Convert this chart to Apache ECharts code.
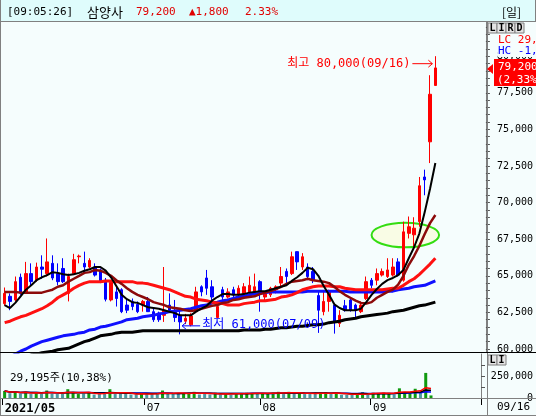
<!DOCTYPE html>
<html><head><meta charset="utf-8">
<script src="https://cdn.jsdelivr.net/npm/echarts@6/dist/echarts.min.js"></script>
<style>html,body{margin:0;padding:0;background:#f5fdfd}#c{width:536px;height:416px}</style>
</head><body><div id="c"></div>
<script>
// ---------- DATA ----------
const dates = [
 '2021/05/25','2021/05/26','2021/05/27','2021/05/28','2021/05/31',
 '2021/06/01','2021/06/02','2021/06/03','2021/06/04','2021/06/07','2021/06/08','2021/06/09','2021/06/10','2021/06/11',
 '2021/06/14','2021/06/15','2021/06/16','2021/06/17','2021/06/18','2021/06/21','2021/06/22','2021/06/23','2021/06/24','2021/06/25',
 '2021/06/28','2021/06/29','2021/06/30',
 '2021/07/01','2021/07/02','2021/07/05','2021/07/06','2021/07/07','2021/07/08','2021/07/09','2021/07/12','2021/07/13','2021/07/14',
 '2021/07/15','2021/07/16','2021/07/19','2021/07/20','2021/07/21','2021/07/22','2021/07/23','2021/07/26','2021/07/27','2021/07/28',
 '2021/07/29','2021/07/30',
 '2021/08/02','2021/08/03','2021/08/04','2021/08/05','2021/08/06','2021/08/09','2021/08/10','2021/08/11','2021/08/12','2021/08/13',
 '2021/08/17','2021/08/18','2021/08/19','2021/08/20','2021/08/23','2021/08/24','2021/08/25','2021/08/26','2021/08/27','2021/08/30','2021/08/31',
 '2021/09/01','2021/09/02','2021/09/03','2021/09/06','2021/09/07','2021/09/08','2021/09/09','2021/09/10','2021/09/13','2021/09/14','2021/09/15','2021/09/16'
];
const emptySlots = 9;
// [open, close, low, high]
const candles = [
 [63100,63800,62950,64200],[63600,63250,62650,63800],[63350,64600,63250,64950],[64900,63800,63700,65150],[63900,65150,63800,65950],
 [65150,64600,64350,65850],[64700,65600,64600,65900],[65600,65450,64800,66400],[65150,65950,64950,67550],[65850,64850,64700,66400],
 [65150,64600,64350,65850],[65500,64600,64500,66200],[63800,64950,63250,65150],[65150,66100,65050,66500],[66300,66350,65850,66450],
 [65850,65600,65150,66650],[65600,66050,65500,66200],[65600,65050,64950,65850],[65400,64600,64500,65500],[64700,63400,63250,64850],
 [63350,64550,63250,64700],[63900,63450,62900,64250],[64050,62550,62450,64150],[63000,62650,62450,63450],[63250,62900,62650,63450],
 [63050,62550,62450,63250],[63000,63250,62550,63350],[63250,62550,62550,63550],[62550,62000,61850,62800],[62450,62000,61850,62550],
 [62300,62650,61850,65600],[63000,62650,62550,63800],[62550,62150,61850,63350],[62300,61850,61000,62650],[61900,62100,61700,62400],
 [61650,62250,61550,62450],[62550,63900,62450,64250],[64250,63900,63600,64350],[64850,64150,63700,65400],[64250,63550,63350,64700],
 [62150,62900,62100,63000],[64050,63550,63350,64250],[63550,63900,63450,64150],[64050,63700,63450,64250],[63700,64150,63550,64350],
 [63800,64250,63700,64500],[63900,64350,63550,64950],[63900,64250,63800,65150],[64600,63900,62550,64700],[63550,63800,63250,63900],
 [63700,64150,63550,64250],[64050,64250,63800,64350],[64500,64950,64250,65600],[65300,64950,64500,65500],[65150,66300,65050,66650],
 [66650,65950,65400,66650],[65600,66300,65400,66550],[65600,64950,64700,65850],[65300,64700,64500,65600],[63650,62650,61100,63950],
 [62550,63250,62300,63900],[63250,63900,62550,64050],[63000,61850,61050,63100],[61750,62300,61500,62650],[62950,62650,62550,63350],
 [63350,62650,62550,63450],[63000,62650,62100,63100],[62550,63000,62450,63250],[63450,64600,63350,64950],[64700,64350,64150,64850],
 [64700,65150,64350,65500],[65050,65300,64950,65500],[64950,65400,64850,66200],[65050,65600,64950,66200],[65950,65050,64950,66200],
 [64700,68000,64600,68700],[67900,68350,67550,69050],[67800,68250,67000,69000],[68700,71150,68350,71750],[71750,71550,70500,72250],
 [74150,77400,72700,78700],[78000,79200,78000,80000]
];
// moving averages
const maBlack = [
 63000,62800,63150,63600,64050,64350,64700,64900,65050,65250,
 65200,65100,65050,65100,65200,65350,65450,65600,65600,65350,
 64900,64300,63700,63400,63200,63150,63000,62850,62800,62750,
 62650,62550,62450,62300,62300,62300,62550,62750,62950,63300,
 63550,63750,63750,63700,63700,63750,63850,63900,63950,63950,
 64050,64150,64250,64350,64650,64900,65200,65550,65450,65000,
 64300,63700,63050,62800,62650,62650,62650,62750,63200,63700,
 64100,64450,64700,64850,65050,65400,66200,66950,67900,69350,
 70950,72700];
const maMaroon = [
 63900,63900,63900,63850,63850,63850,63850,63850,63950,64050,
 64250,64350,64600,64800,65000,65200,65250,65400,65350,65200,
 65000,64700,64450,64150,63900,63700,63550,63400,63200,63100,
 63000,62850,62800,62750,62650,62600,62650,62750,62850,62950,
 63000,63150,63200,63350,63400,63500,63550,63600,63750,63850,
 63950,64100,64250,64450,64600,64650,64700,64800,64700,64650,
 64600,64500,64250,63950,63700,63500,63300,63150,63100,63200,
 63500,63700,63900,64050,64400,65000,65750,66350,67050,67850,
 68600,69150];
const maRed = [
 61800,61900,62050,62200,62300,62450,62600,62750,62950,63200,
 63500,63700,63900,64150,64350,64500,64600,64600,64600,64650,
 64650,64600,64600,64600,64600,64500,64500,64450,64350,64250,
 64150,64050,63900,63750,63600,63550,63400,63350,63300,63200,
 63150,63100,63000,63000,63000,63100,63150,63200,63300,63300,
 63350,63400,63550,63600,63700,63850,64050,64150,64250,64300,
 64300,64300,64250,64250,64150,64100,64050,64050,64050,64050,
 64050,64050,64100,64150,64150,64350,64600,64800,65100,65450,
 65800,66200];
const maBlue = [
 59250,59450,59650,59850,60000,60200,60350,60500,60600,60700,
 60800,60900,60950,61000,61100,61150,61300,61350,61500,61550,
 61650,61750,61850,62000,62050,62100,62200,62250,62300,62400,
 62450,62550,62600,62650,62700,62750,62850,62950,63000,63150,
 63200,63300,63350,63450,63550,63600,63700,63750,63800,63850,
 63900,63900,63900,63900,63900,63900,63900,63950,63950,63950,
 63950,63950,63950,63950,63950,63900,63900,63900,63900,63900,
 63900,63900,63950,63950,64050,64100,64150,64250,64300,64350,
 64500,64650];
const maThick = [
 59100,59250,59300,59400,59450,59600,59650,59750,59800,59850,
 59950,60000,60050,60200,60350,60500,60600,60750,60900,60950,
 61000,61100,61150,61150,61150,61200,61250,61250,61250,61250,
 61250,61250,61250,61250,61250,61250,61250,61250,61250,61250,
 61250,61250,61250,61250,61250,61300,61300,61300,61300,61350,
 61350,61400,61450,61450,61500,61550,61550,61600,61650,61650,
 61700,61800,61850,61900,62000,62050,62100,62200,62250,62300,
 62350,62400,62450,62550,62600,62650,62750,62850,62950,63000,
 63100,63200];
const volumes = [
 80000,55000,70000,50000,70000,45000,65000,50000,85000,50000,
 45000,50000,100000,70000,45000,50000,65000,40000,45000,50000,
 100000,45000,55000,45000,40000,40000,55000,45000,50000,45000,
 85000,50000,45000,55000,50000,60000,70000,40000,50000,40000,
 60000,40000,55000,35000,55000,55000,60000,55000,50000,50000,
 55000,60000,70000,45000,70000,50000,60000,45000,45000,55000,
 60000,65000,50000,55000,35000,35000,35000,50000,65000,40000,
 60000,55000,60000,60000,40000,110000,70000,65000,105000,60000,
 285000,29195];
const priceLabels = [60000,62500,65000,67500,70000,72500,75000,77500,80000];
const volLabels = [0,250000];
const headerTexts = {time:'[09:05:26]', name:'삼양사', price:'79,200', change:'▲1,800', rate:'2.33%', period:'[일]'};
const lastPriceText = ['79,200','(2,33%)'];
const lcText = 'LC 29,8', hcText = 'HC -1,0';
const highNote = '최고 80,000(09/16)', lowNote = '최저 61,000(07/09)';
const volNote = '29,195주(10,38%)';
const lastDateText = '09/16';

// ---------- BUILD ----------
const fmt = n => String(n).replace(/\B(?=(\d{3})+(?!\d))/g, ',');
const cats = dates.concat(Array.from({length: emptySlots}, (_, i) => 'pad' + i));
const monthStarts = [0];
for (let i = 1; i < dates.length; i++) {
  if (dates[i].slice(5,7) !== dates[i-1].slice(5,7) && i - monthStarts[monthStarts.length - 1] > 10) monthStarts.push(i);
}
const priceTickVals = []; for (let v = 60000; v <= 82000; v += 500) priceTickVals.push(v);
const volBars = volumes.map((v, i) => ({value: v, itemStyle: {color: candles[i][1] >= candles[i][0] ? '#109a10' : '#4d9aa0'}}));
function sma(arr, n) { return arr.map((_, i) => { const s = arr.slice(Math.max(0, i-n+1), i+1); return Math.round(s.reduce((a,b)=>a+b,0)/s.length); }); }
const mono = "'DejaVu Sans Mono','Noto Sans CJK KR',monospace";

const chart = echarts.init(document.getElementById('c'), null, {renderer: 'canvas'});
const lineS = (data, color, w, z) => ({type: 'line', data, xAxisIndex: 0, yAxisIndex: 0, symbol: 'none', silent: true,
  lineStyle: {color, width: w}, z, animation: false});
chart.setOption({
  animation: false,
  backgroundColor: '#f5fdfd',
  grid: [
    {left: 2, right: 49, top: 22, bottom: 64},
    {left: 2, right: 49, top: 354, bottom: 18}
  ],
  xAxis: [
    {type: 'category', gridIndex: 0, data: cats, boundaryGap: true, axisLine: {show: false}, axisTick: {show: false}, axisLabel: {show: false}, splitLine: {show: false}},
    {type: 'category', gridIndex: 1, data: cats, boundaryGap: true, axisLine: {show: false},
     axisTick: {show: true, interval: i => monthStarts.includes(i), length: 7, lineStyle: {color: '#000'}},
     axisLabel: {show: true, interval: i => monthStarts.includes(i), align: 'left', margin: 5, color: '#000', fontFamily: mono, fontSize: 11, hideOverlap: false,
       formatter: (v, i) => i === 0 ? '{b|' + v.slice(0,7) + '}' : v.slice(5,7),
       rich: {b: {fontWeight: 'bold', fontSize: 12, fontFamily: mono, color: '#000'}}},
     splitLine: {show: false}}
  ],
  yAxis: [
    {type: 'value', gridIndex: 0, position: 'right', min: 59795, max: 82335, splitLine: {show: false},
     axisLine: {show: true, lineStyle: {color: '#808080'}},
     axisTick: {show: true, customValues: priceTickVals, length: 4, lineStyle: {color: '#555'}},
     axisLabel: {show: true, customValues: priceLabels, formatter: v => fmt(v), margin: 11, color: '#000', fontFamily: mono, fontSize: 10}},
    {type: 'value', gridIndex: 1, position: 'right', min: 0, max: 500000, splitLine: {show: false},
     axisLine: {show: true, lineStyle: {color: '#808080'}},
     axisTick: {show: true, customValues: [0,125000,250000,375000], length: 4, lineStyle: {color: '#555'}},
     axisLabel: {show: true, customValues: volLabels, formatter: v => fmt(v), margin: 52, align: 'right', color: '#000', fontFamily: mono, fontSize: 10}}
  ],
  series: [
    {type: 'candlestick', data: candles, xAxisIndex: 0, yAxisIndex: 0, barWidth: 3, z: 2,
     itemStyle: {color: '#ff0000', color0: '#0000ff', borderColor: '#ff0000', borderColor0: '#0000ff', borderWidth: 1}},
    lineS(maThick, '#000000', 3, 3),
    lineS(maBlue, '#1010ff', 3, 3),
    lineS(maRed, '#ff1010', 3, 3),
    lineS(maMaroon, '#8c0a0a', 2.5, 4),
    lineS(maBlack, '#000000', 2, 5),
    {type: 'bar', data: volBars, xAxisIndex: 1, yAxisIndex: 1, barWidth: 3},
    {type: 'line', data: sma(volumes, 20), xAxisIndex: 1, yAxisIndex: 1, symbol: 'none', lineStyle: {color: '#0000ff', width: 1.5}, z: 3},
    {type: 'line', data: sma(volumes, 10), xAxisIndex: 1, yAxisIndex: 1, symbol: 'none', lineStyle: {color: '#000', width: 1.5}, z: 3},
    {type: 'line', data: sma(volumes, 5), xAxisIndex: 1, yAxisIndex: 1, symbol: 'none', lineStyle: {color: '#ff0000', width: 1.5}, z: 3}
  ]
});

// ---------- FRAME & ANNOTATIONS ----------
const px = (i, v) => chart.convertToPixel({gridIndex: 0}, [i, v]);
const last = candles.length - 1;
const pClose = px(last, candles[last][1]);
let hiIdx = 0, loIdx = 0;
candles.forEach((c, i) => { if (c[3] > candles[hiIdx][3]) hiIdx = i; if (c[2] < candles[loIdx][2]) loIdx = i; });
const pHi = px(hiIdx, candles[hiIdx][3]);
const pLo = px(loIdx, candles[loIdx][2]);
const eL = px(69, 68625), eR = px(81, 66945);
const band = (px(1, 60000)[0] - px(0, 60000)[0]);
const eRight = eR[0] + band * 0.7;
const t = (x, y, text, fill, size, extra) => Object.assign({type: 'text', x, y, silent: true, z: 20,
  style: Object.assign({text, fill, font: (size || 11) + 'px ' + mono, textVerticalAlign: 'middle'}, extra || {})});
const ln = (x1, y1, x2, y2, stroke, w) => ({type: 'line', silent: true, z: 19, shape: {x1, y1, x2, y2}, style: {stroke, lineWidth: w || 1}});
const box = (x, y, letter) => ([
  {type: 'rect', silent: true, z: 20, shape: {x, y, width: 9, height: 10}, style: {fill: '#e4e4e4', stroke: '#808080', lineWidth: 1}},
  t(x + 4.5, y + 5.5, letter, '#000', 10, {font: 'bold 10px ' + mono, textAlign: 'center'})
]);
const g = [
  {type: 'rect', silent: true, z: 10, shape: {x: 0, y: 0, width: 536, height: 21}, style: {fill: '#dffcfc'}},
  ln(0, 21.5, 536, 21.5, '#808080'),
  ln(0.5, 0, 0.5, 416, '#808080'),
  ln(535.5, 0, 535.5, 21, '#808080'),
  ln(487.5, 21, 487.5, 416, '#808080'),
  ln(0, 352.5, 536, 352.5, '#000000'),
  ln(0, 398.5, 536, 398.5, '#808080'),
  ln(0, 415.5, 536, 415.5, '#808080'),
  t(7, 12, headerTexts.time, '#000', 11),
  t(87, 12, headerTexts.name, '#000', 13, {font: "13px 'Noto Sans CJK KR'"}),
  t(136, 12, headerTexts.price, '#e00000', 11),
  t(189, 12, headerTexts.change, '#e00000', 11),
  t(245, 12, headerTexts.rate, '#e00000', 11),
  t(502, 12, headerTexts.period, '#000', 12, {font: "12px 'Noto Sans CJK KR'"}),
  ...box(488, 23, 'L'), ...box(497, 23, 'I'), ...box(506, 23, 'R'), ...box(515, 23, 'D'),
  ...box(488, 355, 'L'), ...box(497, 355, 'I'),
  t(498, 40, lcText, '#ff0000', 11, {backgroundColor: '#f5fdfd'}),
  t(498, 51.5, hcText, '#0000ff', 11, {backgroundColor: '#f5fdfd'}),
  {type: 'rect', silent: true, z: 20, shape: {x: 494, y: pClose[1] - 9, width: 42, height: 27}, style: {fill: '#ff0000'}},
  {type: 'polygon', silent: true, z: 20, shape: {points: [[487, pClose[1] + 1], [493, pClose[1] - 4], [493, pClose[1] + 6]]}, style: {fill: '#ff0000'}},
  t(498, pClose[1] - 1, lastPriceText[0], '#ffffff', 11),
  t(497, pClose[1] + 12, lastPriceText[1], '#ffffff', 11),
  // high annotation
  t(pHi[0] - 25, pHi[1] + 8, highNote, '#ff0000', 12, {textAlign: 'right'}),
  ln(pHi[0] - 23, pHi[1] + 7.5, pHi[0] - 3, pHi[1] + 7.5, '#ff0000', 1),
  {type: 'polyline', silent: true, z: 19, shape: {points: [[pHi[0] - 7, pHi[1] + 4], [pHi[0] - 3, pHi[1] + 7.5], [pHi[0] - 7, pHi[1] + 11]]}, style: {stroke: '#ff0000', lineWidth: 1}},
  // low annotation
  t(pLo[0] + 22, pLo[1] - 9, lowNote, '#0000ff', 12),
  ln(pLo[0] + 2, pLo[1] - 8.5, pLo[0] + 20, pLo[1] - 8.5, '#0000ff', 1),
  {type: 'polyline', silent: true, z: 19, shape: {points: [[pLo[0] + 6, pLo[1] - 12], [pLo[0] + 2, pLo[1] - 8.5], [pLo[0] + 6, pLo[1] - 5]]}, style: {stroke: '#0000ff', lineWidth: 1}},
  {type: 'ellipse', silent: true, z: 1, shape: {cx: (eL[0] + eRight) / 2, cy: (eL[1] + eR[1]) / 2, rx: (eRight - eL[0]) / 2, ry: (eR[1] - eL[1]) / 2},
   style: {fill: 'rgba(255,250,200,0.45)', stroke: '#33dd11', lineWidth: 2}},
  t(10, 378, volNote, '#000', 11),
  t(497, 407.5, lastDateText, '#000', 11)
];
chart.setOption({graphic: g});
</script></body></html>
